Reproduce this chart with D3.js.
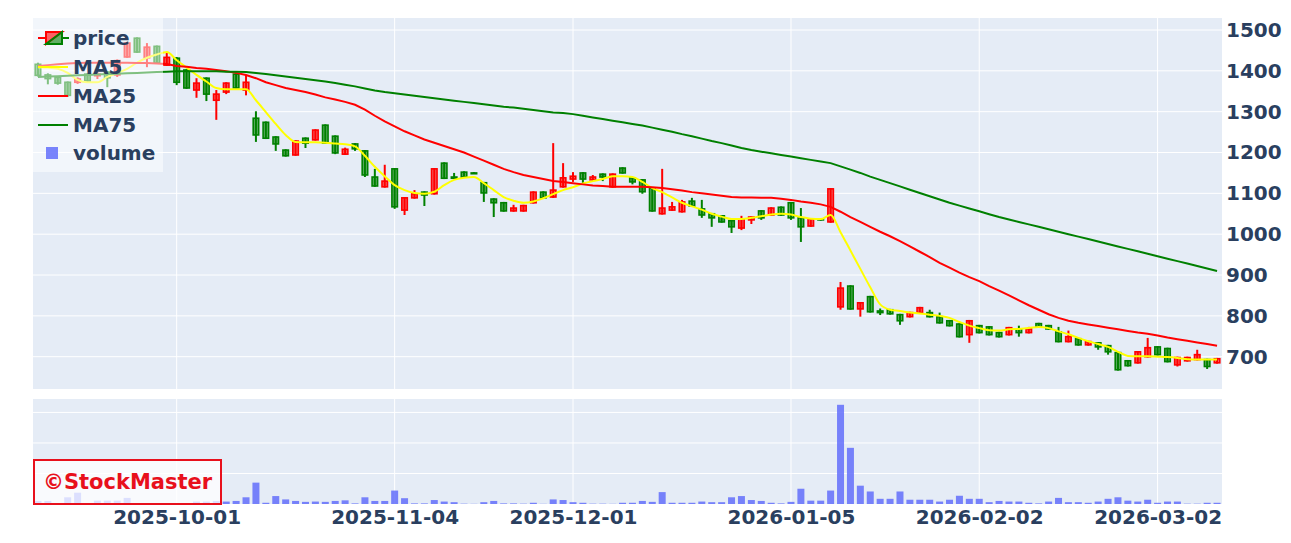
<!DOCTYPE html>
<html><head><meta charset="utf-8">
<script src="https://cdn.jsdelivr.net/npm/d3@7"></script>
<style>
html,body{margin:0;padding:0;background:#fff;}
svg{display:block;font-family:"DejaVu Sans",Verdana,sans-serif;}
</style></head>
<body><svg id="c" width="1291" height="543"></svg>
<script>
const dates = [
"2025-09-09","2025-09-10","2025-09-11","2025-09-12","2025-09-16","2025-09-17","2025-09-18","2025-09-19","2025-09-22","2025-09-24","2025-09-25","2025-09-26","2025-09-29","2025-09-30",
"2025-10-01","2025-10-02","2025-10-03","2025-10-06","2025-10-07","2025-10-08","2025-10-09","2025-10-10","2025-10-14","2025-10-15","2025-10-16","2025-10-17","2025-10-20","2025-10-21","2025-10-22","2025-10-23","2025-10-24","2025-10-27","2025-10-28","2025-10-29","2025-10-30","2025-10-31",
"2025-11-04","2025-11-05","2025-11-06","2025-11-07","2025-11-10","2025-11-11","2025-11-12","2025-11-13","2025-11-14","2025-11-17","2025-11-18","2025-11-19","2025-11-20","2025-11-21","2025-11-25","2025-11-26","2025-11-27","2025-11-28",
"2025-12-01","2025-12-02","2025-12-03","2025-12-04","2025-12-05","2025-12-08","2025-12-09","2025-12-10","2025-12-11","2025-12-12","2025-12-15","2025-12-16","2025-12-17","2025-12-18","2025-12-19","2025-12-22","2025-12-23","2025-12-24","2025-12-25","2025-12-26","2025-12-29","2025-12-30",
"2026-01-05","2026-01-06","2026-01-07","2026-01-08","2026-01-09","2026-01-13","2026-01-14","2026-01-15","2026-01-16","2026-01-19","2026-01-20","2026-01-21","2026-01-22","2026-01-23","2026-01-26","2026-01-27","2026-01-28","2026-01-29","2026-01-30",
"2026-02-02","2026-02-03","2026-02-04","2026-02-05","2026-02-06","2026-02-09","2026-02-10","2026-02-12","2026-02-13","2026-02-16","2026-02-17","2026-02-18","2026-02-19","2026-02-20","2026-02-24","2026-02-25","2026-02-26","2026-02-27",
"2026-03-02","2026-03-03","2026-03-04","2026-03-05","2026-03-06","2026-03-09","2026-03-10"];

const open = [1416,1390,1384,1372,1372,1392,1388,1397,1390,1434,1480,1432,1460,1414,
1431,1402,1353,1382,1328,1348,1392,1353,1284,1274,1238,1206,1194,1235,1231,1267,1240,1196,1221,1204,1140,1116,
1160,1059,1089,1103,1099,1174,1140,1152,1150,1126,1086,1077,1057,1057,1077,1103,1091,1116,
1135,1150,1133,1147,1116,1162,1138,1133,1113,1050,1059,1055,1081,1062,1050,1045,1033,1015,1035,1057,1047,1066,
1077,1040,1020,1037,1030,822,873,817,847,812,815,803,798,808,808,798,788,780,754,
776,773,759,754,768,759,781,776,761,737,744,729,734,727,710,690,685,700,
724,720,680,690,693,693,685];
const high = [1420,1394,1386,1374,1384,1394,1397,1399,1428,1470,1482,1468,1462,1446,
1434,1404,1382,1384,1353,1372,1394,1390,1301,1276,1240,1208,1230,1237,1257,1269,1242,1212,1223,1206,1160,1170,
1162,1091,1108,1105,1162,1176,1150,1154,1152,1128,1088,1079,1072,1072,1105,1105,1223,1174,
1152,1152,1145,1149,1149,1164,1140,1135,1115,1160,1079,1084,1089,1084,1052,1047,1035,1045,1044,1059,1066,1068,
1079,1064,1039,1039,1113,883,875,834,849,818,817,805,810,822,815,808,790,782,790,
778,775,761,773,776,773,783,778,773,764,746,739,736,729,712,692,714,746,
726,722,700,700,717,695,697];
const low = [1386,1367,1366,1336,1368,1373,1380,1360,1385,1432,1444,1409,1417,1412,
1365,1356,1334,1326,1280,1343,1356,1340,1226,1233,1204,1190,1192,1211,1229,1221,1196,1194,1204,1140,1116,1114,
1062,1047,1087,1069,1097,1135,1136,1138,1148,1079,1042,1055,1055,1055,1075,1087,1089,1114,
1128,1125,1131,1130,1114,1148,1122,1099,1055,1048,1057,1053,1067,1040,1018,1028,1003,1010,1025,1035,1045,1045,
1035,981,1018,1033,1028,815,815,798,808,802,803,778,796,806,796,781,774,747,734,
757,752,747,752,749,757,771,766,735,735,727,727,717,705,666,676,683,698,
703,686,676,688,691,670,683];
const close = [1389,1381,1370,1340,1380,1375,1392,1383,1425,1468,1446,1458,1419,1433,
1372,1358,1370,1343,1343,1370,1358,1372,1243,1235,1221,1192,1228,1223,1255,1223,1199,1208,1209,1145,1118,1130,
1067,1089,1099,1096,1160,1137,1137,1140,1149,1101,1077,1057,1064,1070,1103,1089,1108,1138,
1142,1135,1140,1140,1147,1150,1128,1104,1057,1064,1067,1079,1069,1047,1040,1030,1018,1037,1042,1040,1064,1047,
1040,1018,1037,1035,1111,868,817,832,810,808,805,788,808,820,798,783,776,749,788,
759,754,749,771,759,768,773,768,737,749,729,737,724,712,668,678,712,722,
705,688,698,698,705,676,695];

const ma5 = [1409,1408,1405,1395,1378,1372,1372,1385,1395,1405,1420,1432,1440,1446,
1426,1408,1390,1374,1358,1355,1355,1355,1328,1299,1270,1243,1226,1225,1225,1224,1222,1220,1215,1192,1165,1142,
1120,1108,1101,1099,1104,1120,1133,1138,1140,1125,1108,1091,1082,1077,1080,1088,1098,1108,
1115,1124,1130,1135,1142,1142,1140,1128,1113,1103,1090,1077,1068,1060,1050,1043,1037,1037,1040,1044,1048,1050,
1048,1042,1038,1037,1047,1005,960,915,870,828,815,812,808,806,803,800,795,785,776,
770,765,764,767,768,770,773,770,762,755,746,738,731,724,712,702,701,701,
700,699,697,694,693,693,693];
const ma25 = [1412,1414,1416,1418,1419,1420,1420,1420,1420,1420,1419,1419,1418,1417,
1412,1410,1407,1405,1402,1399,1395,1390,1382,1372,1365,1358,1353,1348,1342,1335,1330,1324,1317,1305,1290,1276,
1264,1252,1242,1232,1224,1216,1208,1200,1190,1180,1170,1160,1152,1145,1140,1135,1130,1128,
1125,1122,1119,1118,1116,1116,1116,1116,1115,1113,1110,1107,1103,1100,1097,1094,1091,1090,1090,1089,1089,1087,
1084,1080,1077,1073,1067,1055,1042,1030,1018,1006,995,983,970,957,944,930,918,906,895,
885,873,862,850,838,826,815,804,795,788,783,779,775,771,767,763,759,756,
752,747,743,739,735,731,727];
const ma75 = [1385,1386,1387,1388,1389,1390,1391,1392,1393,1394,1395,1396,1397,1398,
1399,1399,1399,1399,1399,1398,1398,1397,1395,1392,1389,1386,1383,1380,1377,1374,1370,1366,1362,1357,1352,1348,
1345,1342,1339,1336,1333,1330,1327,1324,1321,1318,1315,1312,1310,1307,1304,1301,1298,1297,
1294,1290,1286,1282,1278,1274,1270,1266,1261,1256,1251,1245,1240,1234,1228,1223,1217,1211,1206,1202,1198,1194,
1190,1186,1182,1178,1174,1166,1158,1150,1141,1133,1125,1117,1109,1101,1093,1085,1077,1070,1063,
1056,1049,1042,1036,1030,1024,1018,1012,1006,1000,994,988,982,976,970,964,958,952,
946,940,934,928,922,916,910];
const volume = [0.1,0.1,0.02,0.22,0.37,0.02,0.11,0.11,0.11,0.2,0.02,0.02,0.02,0.02,
0.02,0.02,0.08,0.08,0.1,0.08,0.1,0.22,0.7,0.04,0.26,0.15,0.1,0.07,0.08,0.07,0.1,0.12,0.02,0.22,0.1,0.1,
0.44,0.19,0.02,0.02,0.13,0.08,0.06,0.01,0.005,0.06,0.1,0.02,0.02,0.01,0.04,0.005,0.15,0.13,
0.06,0.04,0.01,0.01,0.005,0.04,0.04,0.1,0.07,0.39,0.04,0.04,0.04,0.08,0.06,0.06,0.22,0.26,0.13,0.1,0.04,0.02,
0.07,0.5,0.11,0.11,0.44,3.25,1.84,0.6,0.41,0.17,0.17,0.41,0.14,0.14,0.14,0.08,0.14,0.27,0.17,
0.17,0.06,0.1,0.08,0.08,0.04,0.02,0.08,0.2,0.06,0.06,0.04,0.08,0.17,0.22,0.11,0.08,0.14,
0.04,0.08,0.08,0.01,0.01,0.04,0.04];

const xTickLabels = ["2025-10-01","2025-11-04","2025-12-01","2026-01-05","2026-02-02","2026-03-02"];
const yTicks = [700,800,900,1000,1100,1200,1300,1400,1500];
const volTicks = [1,2,3];
const legendLabels = ["price","MA5","MA25","MA75","volume"];

const svg = d3.select("#c");
const L = 33, R = 1222;
const mainTop = 18, mainBot = 389, volTop = 399, volBot = 504;
const TXT = "#2a3f5f", BG = "#e5ecf6";
const UP = "#ff0000", DOWN = "#008000";

const x = d3.scalePoint().domain(dates).range([L, R]).padding(0.5);
const y = d3.scaleLinear().domain([620.9, 1529.4]).range([mainBot, mainTop]);
const yv = d3.scaleLinear().domain([0, 3.44]).range([volBot, volTop]);

// backgrounds
svg.append("rect").attr("x",L).attr("y",mainTop).attr("width",R-L).attr("height",mainBot-mainTop).attr("fill",BG);
svg.append("rect").attr("x",L).attr("y",volTop).attr("width",R-L).attr("height",volBot-volTop).attr("fill",BG);

// grids
const g = svg.append("g");
g.selectAll(".hy").data(yTicks).join("line").attr("x1",L).attr("x2",R)
 .attr("y1",d=>y(d)).attr("y2",d=>y(d)).attr("stroke","#fff").attr("stroke-width",1);
g.selectAll(".hv").data(volTicks).join("line").attr("x1",L).attr("x2",R)
 .attr("y1",d=>yv(d)).attr("y2",d=>yv(d)).attr("stroke","#fff").attr("stroke-width",1);
xTickLabels.forEach(t=>{
  const xx = x(t);
  g.append("line").attr("x1",xx).attr("x2",xx).attr("y1",mainTop).attr("y2",mainBot).attr("stroke","#fff").attr("stroke-width",1);
  g.append("line").attr("x1",xx).attr("x2",xx).attr("y1",volTop).attr("y2",volBot).attr("stroke","#fff").attr("stroke-width",1);
});

// candles
const idx = d3.range(dates.length);
const cg = svg.append("g");
const bw = 5.5;
idx.forEach(i=>{
  const up = close[i] >= open[i];
  const col = up ? UP : DOWN;
  const cx = x(dates[i]);
  cg.append("line").attr("x1",cx).attr("x2",cx).attr("y1",y(high[i])).attr("y2",y(low[i]))
    .attr("stroke",col).attr("stroke-width",2);
  const top = y(Math.max(open[i],close[i])), bot = y(Math.min(open[i],close[i]));
  cg.append("rect").attr("x",cx-bw/2).attr("y",top).attr("width",bw).attr("height",Math.max(bot-top,0.8))
    .attr("fill",col).attr("fill-opacity",0.6).attr("stroke",col).attr("stroke-width",1.6);
});

// MA lines
function maLine(arr, color, curve){
  const ln = d3.line().x((d,i)=>x(dates[i])).y(d=>y(d)).curve(curve);
  svg.append("path").attr("d", ln(arr)).attr("fill","none").attr("stroke",color).attr("stroke-width",2);
}
maLine(ma5, "#ffff00", d3.curveMonotoneX);
maLine(ma25, "#ff0000", d3.curveLinear);
maLine(ma75, "#008000", d3.curveLinear);

// volume bars
svg.append("g").selectAll("rect").data(idx).join("rect")
  .attr("x", i=>x(dates[i])-3.5).attr("width",7)
  .attr("y", i=>yv(volume[i])).attr("height", i=>volBot-yv(volume[i]))
  .attr("fill","#636efa").attr("fill-opacity",0.85);

// axes labels
const yAxis = d3.axisRight(y).tickValues(yTicks).tickFormat(d3.format("d")).tickSize(0).tickPadding(4);
const ya = svg.append("g").attr("transform",`translate(${R},0)`).call(yAxis);
ya.select(".domain").remove();
ya.selectAll("text").attr("fill",TXT).attr("font-size","20px").attr("font-weight","bold")
  .attr("font-family","'DejaVu Sans',Verdana,sans-serif");

const xAxis = d3.axisBottom(x).tickValues(xTickLabels).tickSize(0).tickPadding(6);
const xa = svg.append("g").attr("transform",`translate(0,${volBot})`).call(xAxis);
xa.select(".domain").remove();
xa.selectAll("text").attr("fill",TXT).attr("font-size","20px").attr("font-weight","bold")
  .attr("font-family","'DejaVu Sans',Verdana,sans-serif");

// legend
const lg = svg.append("g");
lg.append("rect").attr("x",L).attr("y",mainTop).attr("width",130).attr("height",154)
  .attr("fill","#ffffff").attr("fill-opacity",0.5);
const ly = [38, 67, 96, 125, 153];
legendLabels.forEach((t,k)=>{
  lg.append("text").attr("x",73).attr("y",ly[k]).attr("dy","0.35em").text(t)
    .attr("fill",TXT).attr("font-size","20px").attr("font-weight","bold");
});
// price icon
lg.append("line").attr("x1",38).attr("x2",46).attr("y1",ly[0]).attr("y2",ly[0]).attr("stroke",UP).attr("stroke-width",2);
lg.append("line").attr("x1",62).attr("x2",69).attr("y1",ly[0]).attr("y2",ly[0]).attr("stroke",DOWN).attr("stroke-width",2);
lg.append("path").attr("d",`M46,${ly[0]-6}L62,${ly[0]-6}L46,${ly[0]+6}Z`).attr("fill",UP).attr("fill-opacity",0.6);
lg.append("path").attr("d",`M62,${ly[0]-6}L62,${ly[0]+6}L46,${ly[0]+6}Z`).attr("fill",DOWN).attr("fill-opacity",0.6);
lg.append("path").attr("d",`M46,${ly[0]-6}L62,${ly[0]-6}L46,${ly[0]+6}Z`).attr("fill","none").attr("stroke",UP).attr("stroke-width",2);
lg.append("path").attr("d",`M62,${ly[0]-6}L62,${ly[0]+6}L46,${ly[0]+6}Z`).attr("fill","none").attr("stroke",DOWN).attr("stroke-width",2);
[["#ffff00",1],["#ff0000",2],["#008000",3]].forEach(([c,k])=>{
  lg.append("line").attr("x1",38).attr("x2",68).attr("y1",ly[k]).attr("y2",ly[k]).attr("stroke",c).attr("stroke-width",2);
});
lg.append("rect").attr("x",46).attr("y",ly[4]-6).attr("width",12).attr("height",12).attr("fill","#636efa").attr("fill-opacity",0.85);

// watermark
const wm = svg.append("g");
wm.append("rect").attr("x",34).attr("y",460).attr("width",187).attr("height",44)
  .attr("fill","#ffffff").attr("fill-opacity",0.75).attr("stroke","#e8101c").attr("stroke-width",2);
wm.append("text").attr("x",127.5).attr("y",481).attr("dy","0.36em").attr("text-anchor","middle")
  .text("©StockMaster").attr("fill","#e8101c").attr("font-size","21px").attr("font-weight","bold");
</script></body></html>
